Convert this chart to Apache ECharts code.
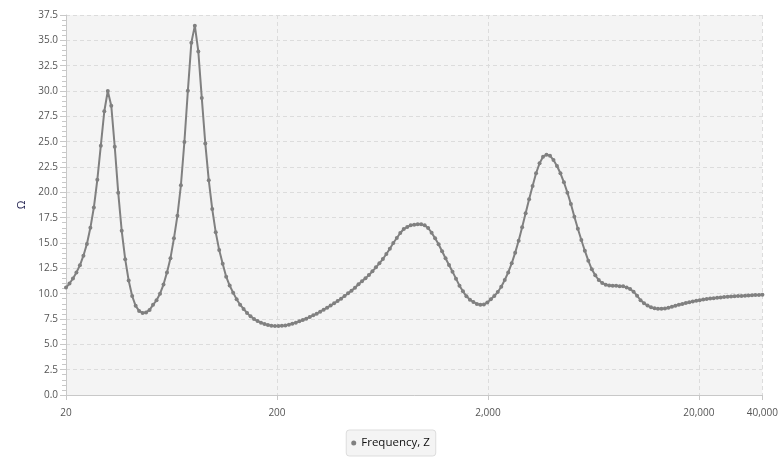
<!DOCTYPE html>
<html>
<head>
<meta charset="utf-8">
<script src="https://cdn.jsdelivr.net/npm/echarts@6/dist/echarts.min.js"></script>
<style>
html,body{margin:0;padding:0;background:#fff;}
#chart{width:781px;height:463px;}
</style>
</head>
<body>
<div id="chart"></div>
<script>
const seriesName = 'Frequency, Z';
const yAxisName = 'Ω';
const xTickValues = [20, 200, 2000, 20000, 40000];
const yTickInterval = 2.5;
const yMax = 37.5;

const frequencies = [
  20.000, 20.775, 21.579, 22.415, 23.284, 24.186, 25.122, 26.096, 27.106, 28.156,
  29.247, 30.380, 31.557, 32.779, 34.049, 35.367, 36.738, 38.161, 39.639, 41.175,
  42.769, 44.426, 46.147, 47.934, 49.791, 51.719, 53.723, 55.805, 57.965, 60.211,
  62.544, 64.967, 67.483, 70.097, 72.812, 75.633, 78.563, 81.606, 84.767, 88.051,
  91.461, 95.004, 98.684, 102.51, 106.48, 110.60, 114.89, 119.34, 123.96, 128.76,
  133.75, 138.93, 144.31, 149.90, 155.70, 161.74, 168.00, 174.51, 181.27, 188.29,
  195.59, 203.17, 211.04, 219.21, 227.70, 236.52, 245.69, 255.20, 265.09, 275.36,
  286.02, 297.10, 308.61, 320.56, 332.98, 345.87, 359.27, 373.19, 387.65, 402.66,
  418.26, 434.46, 451.29, 468.77, 486.93, 505.79, 525.38, 545.74, 566.88, 588.84,
  611.64, 635.33, 659.94, 685.51, 712.06, 739.65, 768.30, 798.06, 828.97, 861.08,
  894.43, 929.08, 965.06, 1002.45, 1041.28, 1081.61, 1123.51, 1167.03, 1212.24, 1259.20,
  1307.97, 1358.64, 1411.26, 1465.93, 1522.72, 1581.70, 1642.97, 1706.62, 1772.72, 1841.39,
  1912.78, 1986.87, 2063.84, 2143.79, 2226.83, 2313.10, 2402.64, 2495.76, 2592.41, 2692.86,
  2796.8, 2905.1, 3017.7, 3134.6, 3256.0, 3382.1, 3513.1, 3649.2, 3790.5, 3937.4,
  4090.3, 4248.7, 4413.3, 4584.3, 4761.8, 4946.3, 5137.9, 5337.0, 5543.7, 5758.4,
  5981.4, 6213.1, 6453.8, 6703.8, 6963.4, 7233.2, 7513.3, 7804.4, 8106.7, 8420.7,
  8747.9, 9086.8, 9438.8, 9804.4, 10184, 10579, 10988, 11414, 11856, 12316,
  12791, 13286, 13801, 14336, 14891, 15468, 16067, 16689, 17336, 18008,
  18706, 19431, 20183, 20965, 21777, 22621, 23497, 24407, 25353, 26335,
  27355, 28414, 29515, 30658, 31846, 33080, 34361, 35692, 37075, 38511,
  40000
];

const impedance = [
  10.6, 11.0, 11.5, 12.1, 12.8, 13.75, 14.9, 16.5, 18.5, 21.25,
  24.6, 28.0, 30.0, 28.55, 24.5, 19.97, 16.2, 13.4, 11.3, 9.77,
  8.8, 8.3, 8.1, 8.15, 8.4, 8.9, 9.35, 10.0, 10.9, 12.1,
  13.5, 15.46, 17.7, 20.7, 24.97, 30.03, 34.77, 36.45, 33.9, 29.3,
  24.83, 21.2, 18.35, 16.05, 14.3, 12.96, 11.68, 10.8, 10.1, 9.45,
  8.91, 8.49, 8.09, 7.76, 7.5, 7.3, 7.14, 7.0, 6.91, 6.84,
  6.81, 6.81, 6.84, 6.87, 6.94, 7.04, 7.14, 7.27, 7.4, 7.53,
  7.7, 7.86, 8.03, 8.22, 8.42, 8.62, 8.82, 9.05, 9.28, 9.51,
  9.77, 10.03, 10.3, 10.59, 10.92, 11.22, 11.51, 11.84, 12.2, 12.6,
  12.99, 13.42, 13.91, 14.44, 15.0, 15.49, 15.99, 16.38, 16.58, 16.74,
  16.81, 16.84, 16.84, 16.74, 16.48, 16.02, 15.46, 14.87, 14.18, 13.49,
  12.83, 12.17, 11.48, 10.79, 10.23, 9.74, 9.41, 9.18, 8.98, 8.9,
  8.92, 9.14, 9.44, 9.77, 10.16, 10.69, 11.35, 12.1, 12.99, 14.05,
  15.23, 16.55, 17.93, 19.31, 20.63, 21.88, 22.86, 23.52, 23.72, 23.62,
  23.19, 22.6, 21.88, 20.99, 19.97, 18.85, 17.6, 16.41, 15.3, 14.24,
  13.26, 12.4, 11.81, 11.35, 11.05, 10.89, 10.8, 10.78, 10.77, 10.74,
  10.72, 10.62, 10.46, 10.2, 9.8, 9.35, 9.05, 8.82, 8.65, 8.55,
  8.5, 8.5, 8.54, 8.6, 8.7, 8.8, 8.9, 8.98, 9.07, 9.15,
  9.23, 9.3, 9.36, 9.42, 9.47, 9.52, 9.56, 9.6, 9.63, 9.66,
  9.69, 9.72, 9.74, 9.76, 9.78, 9.8, 9.82, 9.84, 9.86, 9.88,
  9.9
];

const points = frequencies.map((f, i) => [f, impedance[i]]);
const font = "'Open Sans', 'Noto Sans', sans-serif";

const chart = echarts.init(document.getElementById('chart'), null, {renderer: 'canvas'});
chart.setOption({
  animation: false,
  backgroundColor: '#ffffff',
  textStyle: {fontFamily: font},
  grid: {
    left: 66, right: 15, top: 15, bottom: 68,
    show: true, backgroundColor: '#f4f4f4', borderWidth: 0,
    containLabel: false
  },
  legend: {
    data: [seriesName],
    left: 'center',
    top: 430,
    icon: 'circle',
    itemWidth: 5,
    itemHeight: 5,
    itemGap: 4,
    padding: [7, 6, 7, 5],
    backgroundColor: '#f4f4f4',
    borderColor: '#dddddd',
    borderWidth: 1,
    borderRadius: 3,
    textStyle: {color: '#111111', fontSize: 11.5, fontFamily: font}
  },
  xAxis: {
    type: 'log',
    logBase: 10,
    min: 20,
    max: 40000,
    axisLine: {show: true, lineStyle: {color: '#c8c8c8', width: 1}},
    axisTick: {show: true, length: 5, lineStyle: {color: '#c8c8c8'}, customValues: xTickValues},
    minorTick: {show: false},
    axisLabel: {
      color: '#555555', fontSize: 10, margin: 13, fontFamily: font,
      customValues: xTickValues,
      formatter: v => Math.round(v).toLocaleString('en-US')
    },
    splitLine: {show: true, lineStyle: {color: '#dcdcdc', type: [4, 3], width: 1}}
  },
  yAxis: {
    type: 'value',
    min: 0,
    max: yMax,
    interval: yTickInterval,
    name: yAxisName,
    nameLocation: 'middle',
    nameGap: 36,
    nameRotate: 90,
    nameTextStyle: {color: '#1a1a4a', fontSize: 11, fontFamily: font},
    axisLine: {show: true, lineStyle: {color: '#c8c8c8', width: 1}},
    axisTick: {show: true, length: 6, lineStyle: {color: '#c8c8c8'}},
    minorTick: {show: true, splitNumber: 5, length: 4, lineStyle: {color: '#c8c8c8'}},
    axisLabel: {
      color: '#555555', fontSize: 10, margin: 8, fontFamily: font,
      formatter: v => v.toFixed(1)
    },
    splitLine: {show: true, lineStyle: {color: '#dcdcdc', type: [4, 3], width: 1}}
  },
  series: [{
    name: seriesName,
    type: 'line',
    data: points,
    smooth: false,
    showSymbol: true,
    symbol: 'circle',
    symbolSize: 4,
    lineStyle: {color: '#808080', width: 2},
    itemStyle: {color: '#808080'},
    emphasis: {disabled: true}
  }]
});
</script>
</body>
</html>
